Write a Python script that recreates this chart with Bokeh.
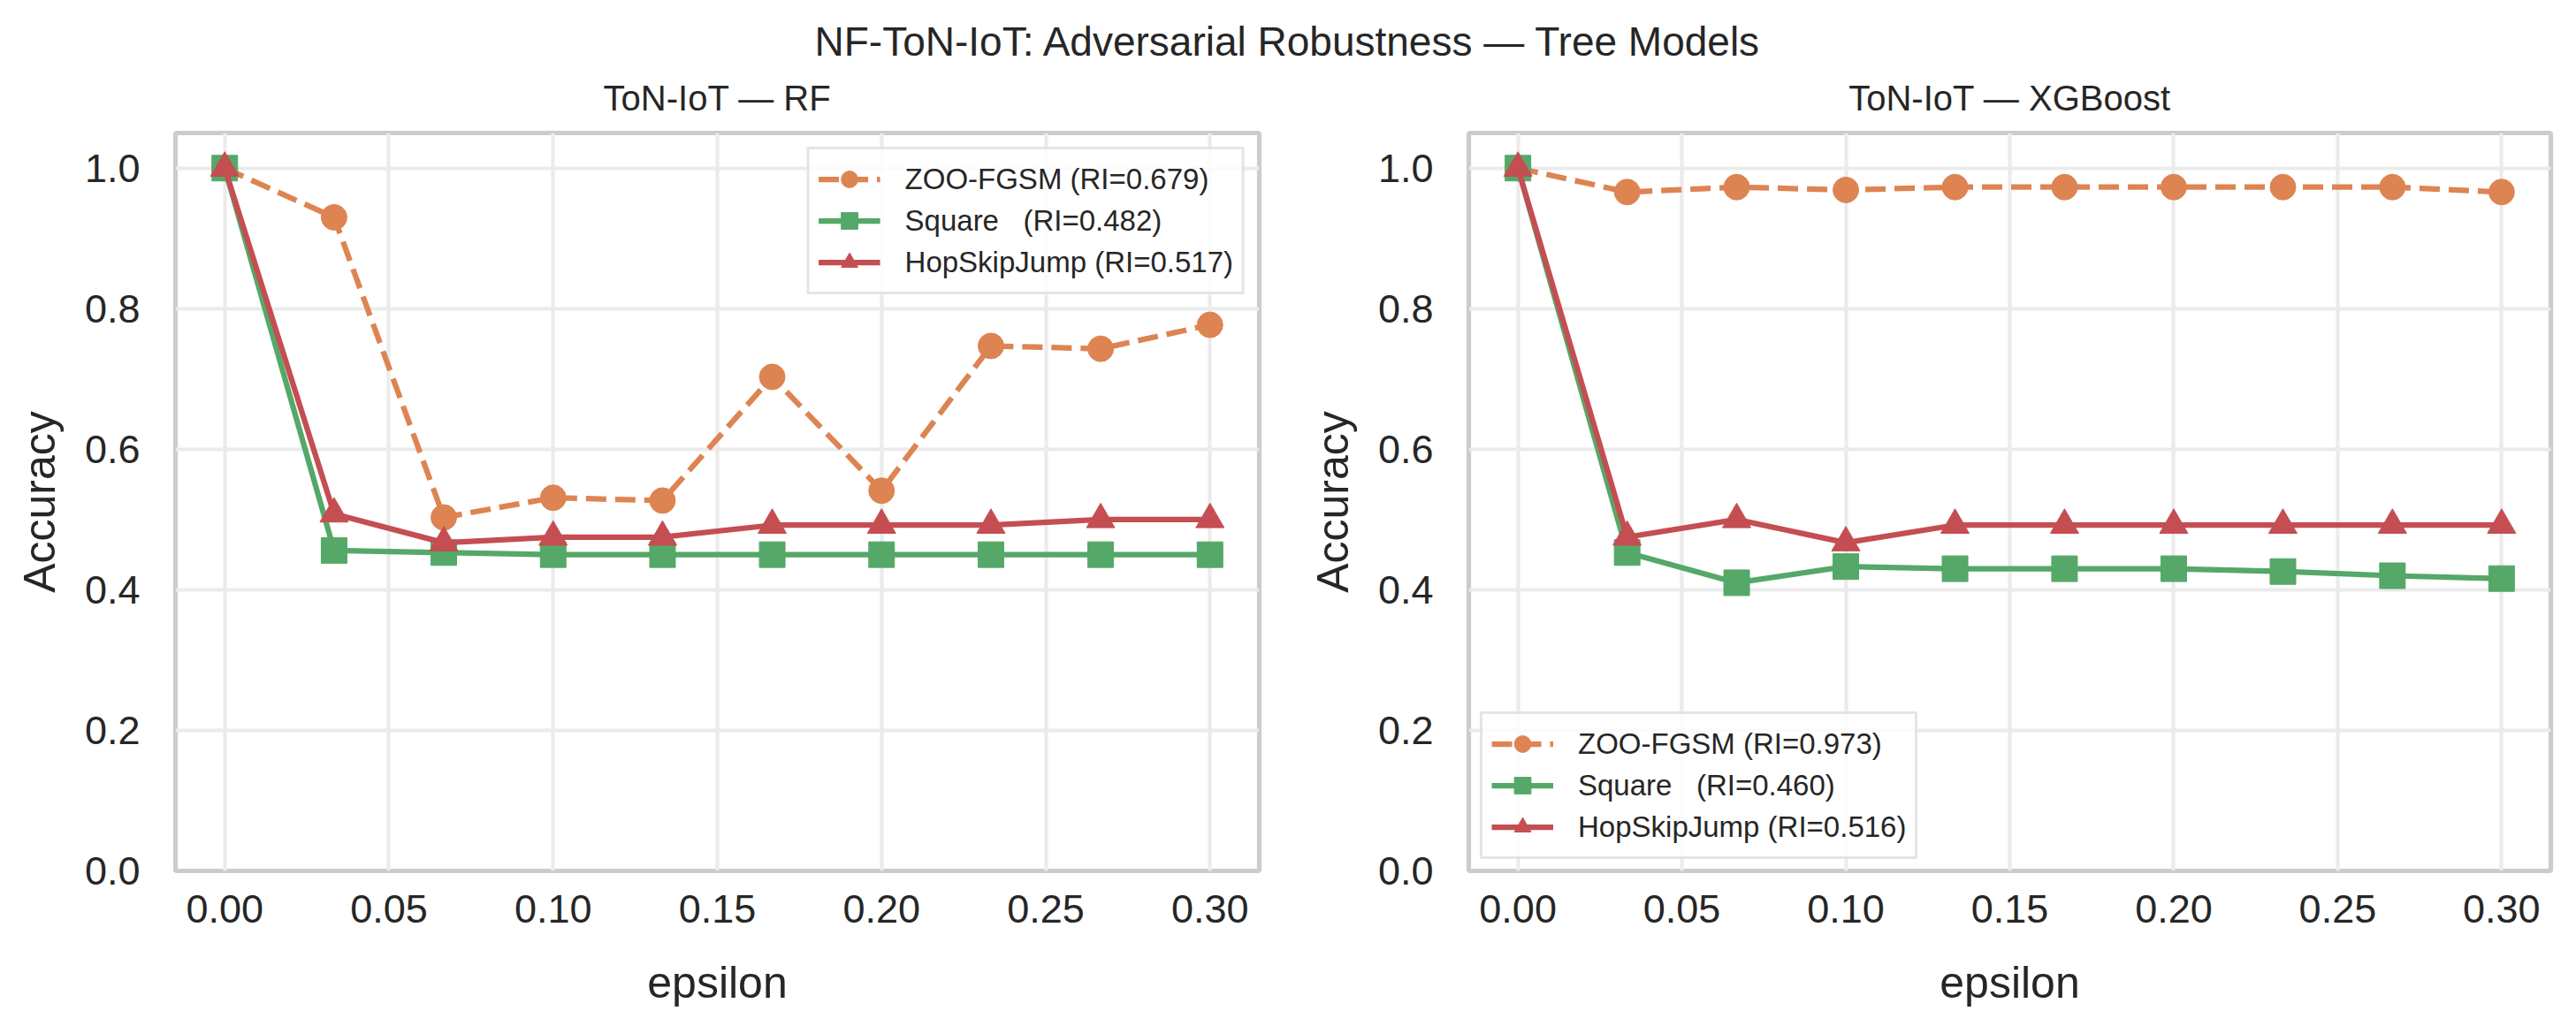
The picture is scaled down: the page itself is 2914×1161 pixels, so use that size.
from bokeh.plotting import figure
from bokeh.layouts import column, row
from bokeh.models import Range1d, FixedTicker, NumeralTickFormatter, Legend, LegendItem
from bokeh.core.properties import value
from bokeh.embed import file_html
from bokeh.resources import INLINE

# ---- data ----
eps = [0.0, 0.0333, 0.0667, 0.1, 0.1333, 0.1667, 0.2, 0.2333, 0.2667, 0.3]

rf_zoo = [1.0, 0.930, 0.503, 0.531, 0.527, 0.703, 0.541, 0.747, 0.743, 0.777]
rf_square = [1.0, 0.456, 0.453, 0.450, 0.450, 0.450, 0.450, 0.450, 0.450, 0.450]
rf_hsj = [1.0, 0.508, 0.467, 0.475, 0.475, 0.492, 0.492, 0.492, 0.500, 0.500]

xgb_zoo = [1.0, 0.966, 0.973, 0.969, 0.973, 0.973, 0.973, 0.973, 0.973, 0.966]
xgb_square = [1.0, 0.453, 0.410, 0.433, 0.430, 0.430, 0.430, 0.426, 0.420, 0.416]
xgb_hsj = [1.0, 0.475, 0.500, 0.467, 0.492, 0.492, 0.492, 0.492, 0.492, 0.492]

rf_labels = ["ZOO-FGSM (RI=0.679)", "Square   (RI=0.482)", "HopSkipJump (RI=0.517)"]
xgb_labels = ["ZOO-FGSM (RI=0.973)", "Square   (RI=0.460)", "HopSkipJump (RI=0.516)"]

x_ticks = [0.0, 0.05, 0.10, 0.15, 0.20, 0.25, 0.30]
y_ticks = [0.0, 0.2, 0.4, 0.6, 0.8, 1.0]

suptitle = "NF-ToN-IoT: Adversarial Robustness \u2014 Tree Models"
titles = ["ToN-IoT \u2014 RF", "ToN-IoT \u2014 XGBoost"]

# ---- style / layout constants (pixels) ----
FONT = "Liberation Sans"
TXT = "#262626"
C_ZOO, C_SQ, C_HSJ = "#DD8452", "#55A868", "#C44E52"
LW = 6.25
W_TOTAL = 2914
HEAD_H = 147                 # header strip holding the titles
W_LEFT, W_RIGHT = 1463, 1451
BORDER_L = 198
BORDER_R = [39, 29]
SUP_Y, SUB_Y = 46, 110       # vertical centres of the title lines (px from top)


def make_panel(zoo, sq, hsj, labels, loc, margin, width, bl, br):
    p = figure(width=width, height=1161 - HEAD_H, title=None,
               x_range=Range1d(-0.015, 0.315), y_range=Range1d(0, 1.05),
               toolbar_location=None, output_backend="svg",
               min_border_left=bl, min_border_right=br,
               min_border_top=3, min_border_bottom=176)
    p.background_fill_color = "white"
    p.border_fill_color = "white"
    p.outline_line_color = "#CCCCCC"
    p.outline_line_width = 5.2

    for ax in (p.xaxis[0], p.yaxis[0]):
        ax.axis_line_color = None
        ax.major_tick_line_color = None
        ax.minor_tick_line_color = None
        ax.major_tick_out = 0
        ax.major_tick_in = 0
        ax.major_label_text_font = FONT
        ax.major_label_text_font_size = "45px"
        ax.major_label_text_color = TXT
        ax.axis_label_text_font = FONT
        ax.axis_label_text_font_size = "50px"
        ax.axis_label_text_font_style = "normal"
        ax.axis_label_text_color = TXT

    p.xaxis.axis_label = "epsilon"
    p.yaxis.axis_label = "Accuracy"
    p.xaxis.ticker = FixedTicker(ticks=x_ticks)
    p.yaxis.ticker = FixedTicker(ticks=y_ticks)
    p.xaxis.formatter = NumeralTickFormatter(format="0.00")
    p.yaxis.formatter = NumeralTickFormatter(format="0.0")
    p.xaxis.major_label_standoff = 27
    p.yaxis.major_label_standoff = 40
    p.xaxis.axis_label_standoff = 37
    p.yaxis.axis_label_standoff = 20

    p.xgrid.ticker = FixedTicker(ticks=x_ticks)
    p.ygrid.ticker = FixedTicker(ticks=y_ticks)
    for g in (p.xgrid[0], p.ygrid[0]):
        g.grid_line_color = "#EBEBEB"
        g.grid_line_width = 4.2

    l1 = p.line(eps, zoo, line_color=C_ZOO, line_width=LW, line_dash="23 10")
    s1 = p.scatter(eps, zoo, marker="circle", size=29, fill_color=C_ZOO, line_color=C_ZOO)
    l2 = p.line(eps, sq, line_color=C_SQ, line_width=LW)
    s2 = p.scatter(eps, sq, marker="square", size=29, fill_color=C_SQ, line_color=C_SQ)
    l3 = p.line(eps, hsj, line_color=C_HSJ, line_width=LW)
    s3 = p.scatter(eps, hsj, marker="triangle", size=32, fill_color=C_HSJ, line_color=C_HSJ)

    legend = Legend(items=[LegendItem(label=labels[0], renderers=[l1, s1]),
                           LegendItem(label=labels[1], renderers=[l2, s2]),
                           LegendItem(label=labels[2], renderers=[l3, s3])],
                    location=loc)
    legend.label_text_font = FONT
    legend.label_text_font_size = "33px"
    legend.label_text_color = TXT
    legend.glyph_width = 70
    legend.glyph_height = 47
    legend.label_height = 40
    legend.spacing = 0
    legend.padding = 10
    legend.label_standoff = 28
    legend.border_line_color = "#CCCCCC"
    legend.border_line_width = 3.5
    legend.background_fill_color = "white"
    legend.background_fill_alpha = 0.8
    legend.margin = margin
    p.add_layout(legend)
    return p


# header strip: pixel coordinates (x from left, y from top)
head = figure(width=W_TOTAL, height=HEAD_H, title=None, toolbar_location=None,
              output_backend="svg",
              x_range=Range1d(0, W_TOTAL), y_range=Range1d(HEAD_H, 0),
              min_border_top=0, min_border_bottom=0, min_border_left=0, min_border_right=0,
              x_axis_location=None, y_axis_location=None)
head.outline_line_color = None
head.xgrid.visible = False
head.ygrid.visible = False
head.background_fill_color = "white"
head.border_fill_color = "white"

frame_w = [W_LEFT - BORDER_L - BORDER_R[0], W_RIGHT - BORDER_L - BORDER_R[1]]
title_x = [BORDER_L + frame_w[0] / 2, W_LEFT + BORDER_L + frame_w[1] / 2]

head.text(x=[W_TOTAL / 2], y=[SUP_Y], text=[suptitle], text_align="center",
          text_baseline="middle", text_font=value(FONT), text_font_size="46px",
          text_color=TXT)
head.text(x=title_x, y=[SUB_Y, SUB_Y], text=titles, text_align="center",
          text_baseline="middle", text_font=value(FONT), text_font_size="40px",
          text_color=TXT)

p1 = make_panel(rf_zoo, rf_square, rf_hsj, rf_labels, "top_right", 16, W_LEFT, BORDER_L, BORDER_R[0])
p2 = make_panel(xgb_zoo, xgb_square, xgb_hsj, xgb_labels, "bottom_left", 13, W_RIGHT, BORDER_L, BORDER_R[1])

layout = column(head, row(p1, p2))
open("out.html", "w").write(file_html(layout, INLINE))
